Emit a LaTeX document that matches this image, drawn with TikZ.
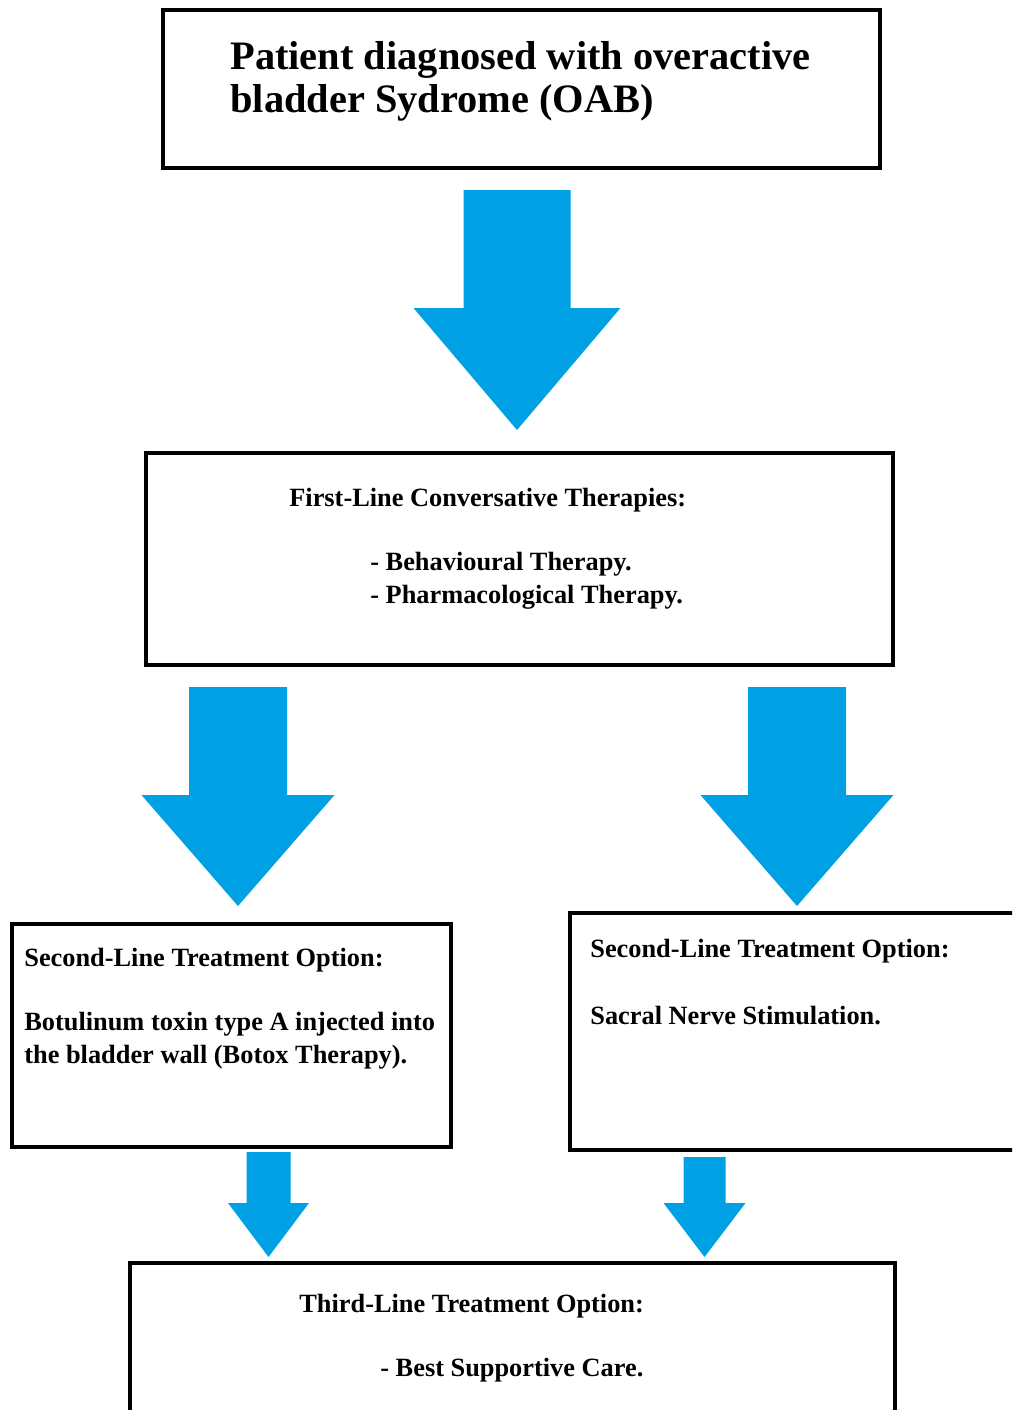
\documentclass[tikz,border=0pt]{standalone}
\usepackage{fontspec}
\setmainfont{Liberation Serif}
\usetikzlibrary{fit}
\definecolor{arrowblue}{RGB}{0,161,228}
\newcommand{\drawbigarrow}[6]{\fill[arrowblue] (#1-#5,#2)--(#1+#5,#2)--(#1+#5,#3)--(#1+#6,#3)--(#1,#4)--(#1-#6,#3)--(#1-#5,#3)--cycle;}
\tikzset{
  box/.style={draw, line width=2.3pt, inner sep=0pt},
  bigtext/.style={font=\bfseries\fontsize{23}{24.4}\selectfont, align=left, inner sep=0pt, anchor=west},
  smalltext/.style={font=\bfseries\fontsize{15}{18.7}\selectfont, align=left, inner sep=0pt, anchor=west}
}
\begin{document}
\begin{tikzpicture}[x=0.02cm, y=-0.02cm]
\useasboundingbox (0,0) rectangle (1012,1410);
\clip (0,0) rectangle (1012,1410);
% boxes
\node[box, fit={(163,10) (880,168)}] (oab) {};
\node[box, fit={(146,453) (893,665)}] (first) {};
\node[box, fit={(12,924) (451,1147)}] (botox) {};
\node[box, fit={(570,913) (1040,1150)}] (sns) {};
\node[box, fit={(130,1263) (895,1440)}] (third) {};
% arrows
\drawbigarrow{517}{190}{308}{430}{53.5}{103.5}
\drawbigarrow{238}{687}{795}{906}{49}{96.5}
\drawbigarrow{797}{687}{795}{906}{49}{96.5}
\drawbigarrow{268.5}{1152}{1203}{1257}{22}{40.5}
\drawbigarrow{704.5}{1157}{1203}{1257}{21}{41}
% texts
\node[bigtext] (oabtext) at (230,81) {Patient diagnosed with overactive\\bladder Sydrome (OAB)};
\node[smalltext] (firsttitle) at (289,500) {First-Line Conversative Therapies:};
\node[smalltext] (firstlist) at (370,580.5) {- Behavioural Therapy.\\- Pharmacological Therapy.};
\node[smalltext] (botoxtitle) at (24,960) {Second-Line Treatment Option:};
\node[smalltext] (botoxtext) at (24,1040.5) {Botulinum toxin type A injected into\\the bladder wall (Botox Therapy).};
\node[smalltext] (snstitle) at (590,951) {Second-Line Treatment Option:};
\node[smalltext] (snstext) at (590,1016) {Sacral Nerve Stimulation.};
\node[smalltext] (thirdtitle) at (299,1306) {Third-Line Treatment Option:};
\node[smalltext] (thirdtext) at (380,1370) {- Best Supportive Care.};
\end{tikzpicture}
\end{document}
